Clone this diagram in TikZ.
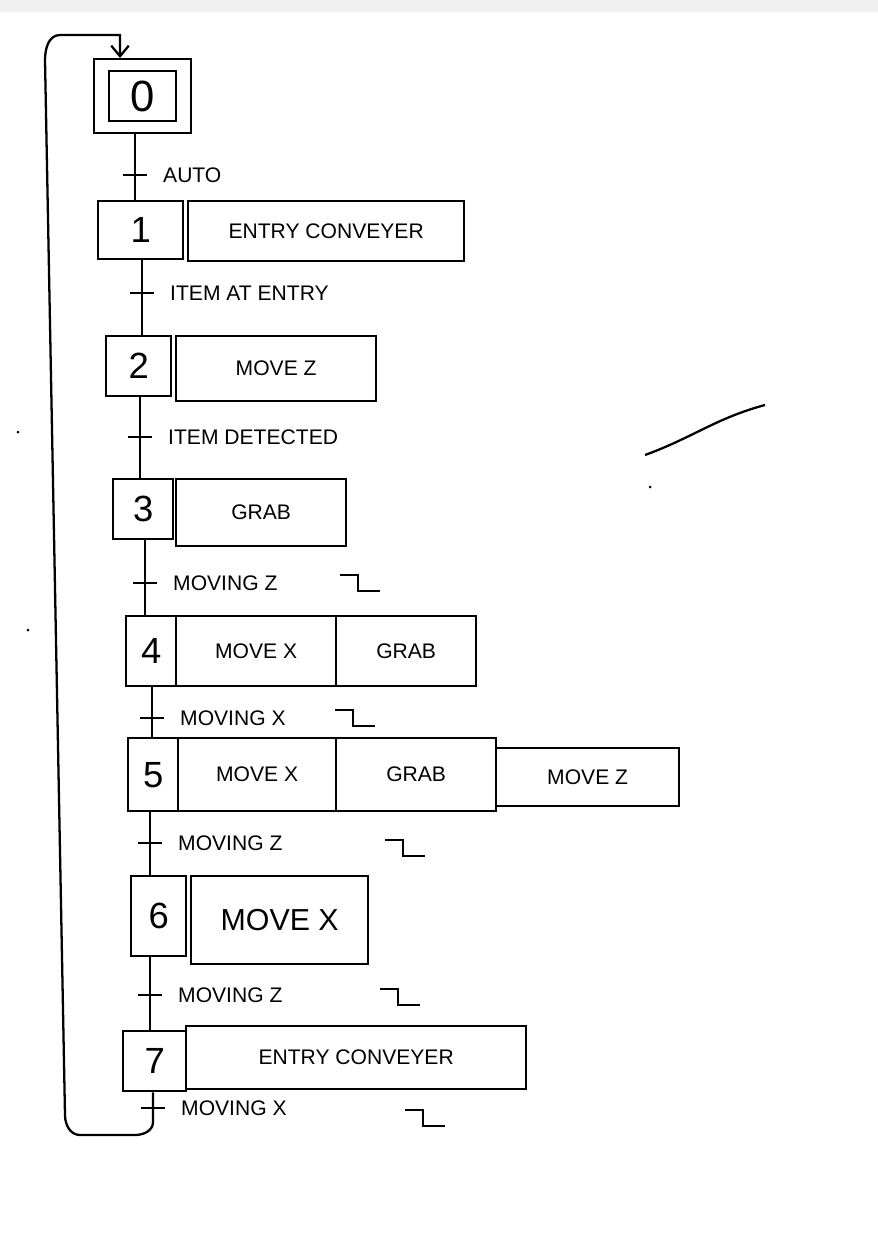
\documentclass[tikz,border=0pt]{standalone}
\usepackage{fontspec}
\setmainfont{Liberation Sans}
\usetikzlibrary{arrows.meta}
\begin{document}
\begin{tikzpicture}[x=0.02cm,y=-0.02cm,
  box/.style={draw,line width=1.3pt,inner sep=0pt,anchor=north west},
  act/.style={box,font=\large},
  lbl/.style={anchor=west,font=\large},
  ln/.style={line width=1.3pt},
  edge/.pic={\draw[line width=1.3pt] (0,-8) -- (18,-8) -- (18,8) -- (40,8);}]
\fill[white] (0,0) rectangle (878,1254);
\fill[black!6] (0,0) rectangle (878,12);
\useasboundingbox (0,0) rectangle (878,1254);
% step 0
\node[box,minimum width=97*0.02cm,minimum height=74*0.02cm] (s0o) at (93,58) {};
\node[box,minimum width=67*0.02cm,minimum height=50*0.02cm,font=\Huge] (s0) at (108,70) {0};
% step 1
\node[box,minimum width=85*0.02cm,minimum height=58*0.02cm,font=\huge] (s1) at (97,200) {1};
\node[act,minimum width=276*0.02cm,minimum height=60*0.02cm] (a1) at (187,200) {ENTRY CONVEYER};
% step 2
\node[box,minimum width=65*0.02cm,minimum height=60*0.02cm,font=\huge] (s2) at (105,335) {2};
\node[act,minimum width=200*0.02cm,minimum height=65*0.02cm] (a2) at (175,335) {MOVE Z};
% step 3
\node[box,minimum width=60*0.02cm,minimum height=60*0.02cm,font=\huge] (s3) at (112,478) {3};
\node[act,minimum width=170*0.02cm,minimum height=67*0.02cm] (a3) at (175,478) {GRAB};
% step 4
\node[box,minimum width=50*0.02cm,minimum height=70*0.02cm,font=\huge] (s4) at (125,615) {4};
\node[act,minimum width=160*0.02cm,minimum height=70*0.02cm] (a4a) at (175,615) {MOVE X};
\node[act,minimum width=140*0.02cm,minimum height=70*0.02cm] (a4b) at (335,615) {GRAB};
% step 5
\node[box,minimum width=50*0.02cm,minimum height=73*0.02cm,font=\huge] (s5) at (127,737) {5};
\node[act,minimum width=158*0.02cm,minimum height=73*0.02cm] (a5a) at (177,737) {MOVE X};
\node[act,minimum width=160*0.02cm,minimum height=73*0.02cm] (a5b) at (335,737) {GRAB};
\node[act,minimum width=183*0.02cm,minimum height=58*0.02cm] (a5c) at (495,747) {MOVE Z};
% step 6
\node[box,minimum width=55*0.02cm,minimum height=80*0.02cm,font=\huge] (s6) at (130,875) {6};
\node[box,minimum width=177*0.02cm,minimum height=88*0.02cm,font=\LARGE] (a6) at (190,875) {MOVE X};
% step 7
\node[box,minimum width=63*0.02cm,minimum height=60*0.02cm,font=\huge] (s7) at (122,1030) {7};
\node[act,minimum width=340*0.02cm,minimum height=63*0.02cm] (a7) at (185,1025) {ENTRY CONVEYER};
% links
\draw[ln] (s0o.south -| 135,0) -- (s1.north -| 135,0);
\draw[ln] (s1.south -| 142,0) -- (s2.north -| 142,0);
\draw[ln] (s2.south -| 140,0) -- (s3.north -| 140,0);
\draw[ln] (s3.south -| 145,0) -- (s4.north -| 145,0);
\draw[ln] (s4.south -| 152,0) -- (s5.north -| 152,0);
\draw[ln] (s5.south -| 150,0) -- (s6.north -| 150,0);
\draw[ln] (s6.south -| 150,0) -- (s7.north -| 150,0);
% transitions
\foreach \x/\y/\t in {135/175/AUTO,142/293/ITEM AT ENTRY,140/437/ITEM DETECTED,145/583/MOVING Z,152/718/MOVING X,150/843/MOVING Z,150/995/MOVING Z,153/1108/MOVING X}{
  \draw[ln] (\x-12,\y) -- (\x+12,\y);
  \node[lbl] at (\x+22,\y) {\t};
}
\pic at (340,583) {edge};
\pic at (335,718) {edge};
\pic at (385,848) {edge};
\pic at (380,997) {edge};
\pic at (405,1118) {edge};
% return loop
\coordinate (r0) at (153,1090);
\coordinate (r1) at (153,1122);
\coordinate (top) at (120,35);
\draw[ln,-{Straight Barb[length=6pt,width=10pt]}] (s7.south -| r0) -- (r1) to[out=-90,in=0] (135,1135) -- (80,1135)
  to[out=180,in=-90] (65,1115) -- (45,60) to[out=90,in=180] (60,35) -- (top) -- (s0o.north -| top);
% stray marks
\draw[ln] (645,455) to[out=20,in=195] (765,405);
\fill (18,432) circle (1.5);
\fill (28,630) circle (1.5);
\fill (650,487) circle (1.5);
\end{tikzpicture}
\end{document}
